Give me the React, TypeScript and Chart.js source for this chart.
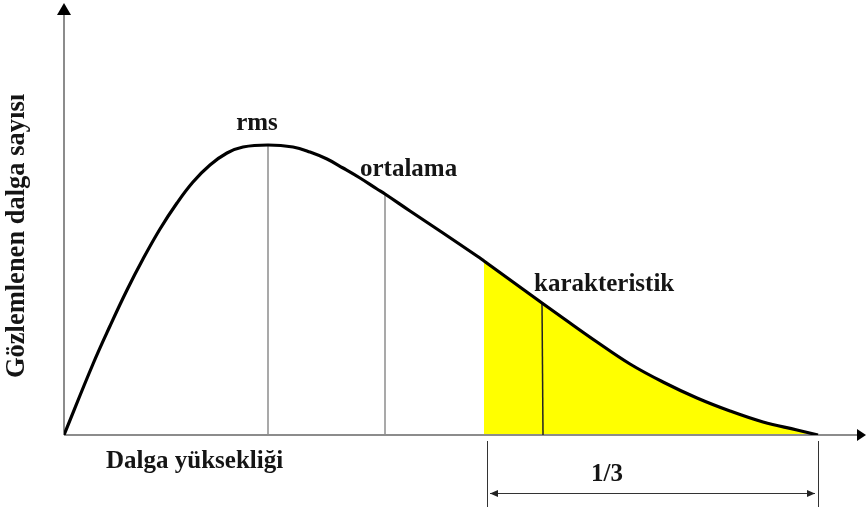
import React, { useEffect, useRef } from "react";
import { Chart, registerables } from "chart.js";

Chart.register(...registerables);

const waveHeight = [0, 0.29, 0.46, 0.63, 0.79, 0.96, 1.13, 1.29, 1.46, 1.63, 1.79, 2.04, 2.29, 2.46, 2.63, 2.79, 2.96, 3.13, 3.21, 3.46, 3.79, 4.13, 4.2, 4.49, 4.78, 4.99, 5.33, 5.66, 5.99, 6.33, 6.66, 6.99, 7.33, 7.54];
const waveCount = [0, 0.71, 1.09, 1.45, 1.76, 2.06, 2.32, 2.53, 2.7, 2.82, 2.88, 2.9, 2.88, 2.83, 2.76, 2.67, 2.57, 2.46, 2.41, 2.24, 2.02, 1.79, 1.74, 1.53, 1.32, 1.17, 0.93, 0.71, 0.53, 0.37, 0.24, 0.13, 0.05, 0];

// Marked heights
const markerLabels = ["rms", "ortalama", "karakteristik"];
const markerHeights = [2.04, 3.21, 4.78];
const markerCounts = [2.9, 2.41, 1.32];

// Highest third region
const thirdStart = 4.2;
const thirdEnd = 7.54;
const thirdLabel = "1/3";

const xTitle = "Dalga yüksekliği";
const yTitle = "Gözlemlenen dalga sayısı";

const FONT = 'bold 25px "Liberation Serif", "Times New Roman", serif';
const YFONT = 'bold 26.5px "Liberation Serif", "Times New Roman", serif';

export default function App() {
  const ref = useRef<HTMLCanvasElement | null>(null);

  useEffect(() => {
    if (!ref.current) return;
    const curve = waveHeight.map((x, i) => ({ x, y: waveCount[i] }));
    const third = curve.filter((p) => p.x >= thirdStart && p.x <= thirdEnd);

    const decor = {
      id: "decor",
      afterDatasetDraw(chart: any, args: any) {
        if (args.index !== 1) return;
        const ctx = chart.ctx;
        const xs = chart.scales.x;
        const ys = chart.scales.y;
        const x0 = xs.getPixelForValue(0);
        const y0 = ys.getPixelForValue(0);
        const xEnd = xs.getPixelForValue(xs.max);
        const yTop = ys.getPixelForValue(ys.max);
        ctx.save();
        // axes
        ctx.strokeStyle = "#8c8c8c";
        ctx.lineWidth = 2;
        ctx.beginPath();
        ctx.moveTo(x0, y0);
        ctx.lineTo(x0, yTop + 8);
        ctx.moveTo(x0, y0);
        ctx.lineTo(xEnd - 6, y0);
        ctx.stroke();
        ctx.fillStyle = "#000";
        ctx.beginPath();
        ctx.moveTo(x0, yTop);
        ctx.lineTo(x0 - 7, yTop + 12);
        ctx.lineTo(x0 + 7, yTop + 12);
        ctx.closePath();
        ctx.fill();
        ctx.beginPath();
        ctx.moveTo(xEnd, y0);
        ctx.lineTo(xEnd - 9, y0 - 6);
        ctx.lineTo(xEnd - 9, y0 + 6);
        ctx.closePath();
        ctx.fill();
        // marker verticals
        markerHeights.forEach((h, i) => {
          const px = xs.getPixelForValue(h);
          const py = ys.getPixelForValue(markerCounts[i]);
          ctx.strokeStyle = i === 2 ? "#222" : "#8c8c8c";
          ctx.lineWidth = 1.5;
          ctx.beginPath();
          ctx.moveTo(px, py);
          ctx.lineTo(px + (i === 2 ? 1 : 0), y0);
          ctx.stroke();
        });
        ctx.restore();
      },
      afterDatasetsDraw(chart: any) {
        const ctx = chart.ctx;
        const xs = chart.scales.x;
        const ys = chart.scales.y;
        const x0 = xs.getPixelForValue(0);
        const y0 = ys.getPixelForValue(0);
        ctx.save();
        ctx.font = FONT;
        ctx.fillStyle = "#151515";
        ctx.textBaseline = "alphabetic";
        // marker labels
        const offs = [
          { dx: -11, dy: -15, align: "center" },
          { dx: -25, dy: -18, align: "left" },
          { dx: -8, dy: -12, align: "left" },
        ];
        markerLabels.forEach((lab, i) => {
          const px = xs.getPixelForValue(markerHeights[i]);
          const py = ys.getPixelForValue(markerCounts[i]);
          ctx.textAlign = offs[i].align;
          ctx.fillText(lab, px + offs[i].dx, py + offs[i].dy);
        });
        // axis titles
        ctx.textAlign = "left";
        ctx.fillText(xTitle, x0 + 42, y0 + 33);
        ctx.save();
        ctx.font = YFONT;
        ctx.translate(x0 - 47, 236);
        ctx.rotate(-Math.PI / 2);
        ctx.textAlign = "center";
        ctx.textBaseline = "middle";
        ctx.fillText(yTitle, 0, 0);
        ctx.restore();
        // dimension for highest third
        const a = xs.getPixelForValue(thirdStart) + 3;
        const b = xs.getPixelForValue(thirdEnd);
        ctx.strokeStyle = "#333";
        ctx.fillStyle = "#222";
        ctx.lineWidth = 1;
        ctx.beginPath();
        ctx.moveTo(a + 0.5, y0 + 6);
        ctx.lineTo(a + 0.5, y0 + 72);
        ctx.moveTo(b + 0.5, y0 + 6);
        ctx.lineTo(b + 0.5, y0 + 72);
        const ay = y0 + 58.5;
        ctx.moveTo(a + 3, ay);
        ctx.lineTo(b - 3, ay);
        ctx.stroke();
        ctx.beginPath();
        ctx.moveTo(a + 3, ay);
        ctx.lineTo(a + 11, ay - 3.5);
        ctx.lineTo(a + 11, ay + 3.5);
        ctx.closePath();
        ctx.fill();
        ctx.beginPath();
        ctx.moveTo(b - 3, ay);
        ctx.lineTo(b - 11, ay - 3.5);
        ctx.lineTo(b - 11, ay + 3.5);
        ctx.closePath();
        ctx.fill();
        ctx.fillStyle = "#151515";
        ctx.textAlign = "center";
        ctx.fillText(thirdLabel, a + 120, y0 + 46);
        ctx.restore();
      },
    };

    const chart = new Chart(ref.current, {
      type: "scatter",
      data: {
        datasets: [
          {
            data: curve,
            showLine: true,
            borderColor: "#000",
            borderWidth: 3.2,
            pointRadius: 0,
            tension: 0.4,
            fill: false,
          },
          {
            data: third,
            showLine: true,
            borderWidth: 0,
            borderColor: "rgba(0,0,0,0)",
            backgroundColor: "#ffff00",
            pointRadius: 0,
            tension: 0.4,
            fill: "origin",
          },
        ],
      },
      options: {
        animation: false,
        responsive: false,
        maintainAspectRatio: false,
        layout: { padding: { left: 64, top: 3, right: 1, bottom: 74 } },
        plugins: { legend: { display: false }, tooltip: { enabled: false } },
        scales: {
          x: { type: "linear", min: 0, max: 8.02, display: false },
          y: { type: "linear", min: 0, max: 4.32, display: false },
        },
      },
      plugins: [decor],
    } as any);
    return () => chart.destroy();
  }, []);

  return (
    <div style={{ position: "fixed", left: 0, top: 0, width: 867, height: 509, background: "#fff" }}>
      <canvas ref={ref} width={867} height={509} style={{ display: "block" }} />
    </div>
  );
}
